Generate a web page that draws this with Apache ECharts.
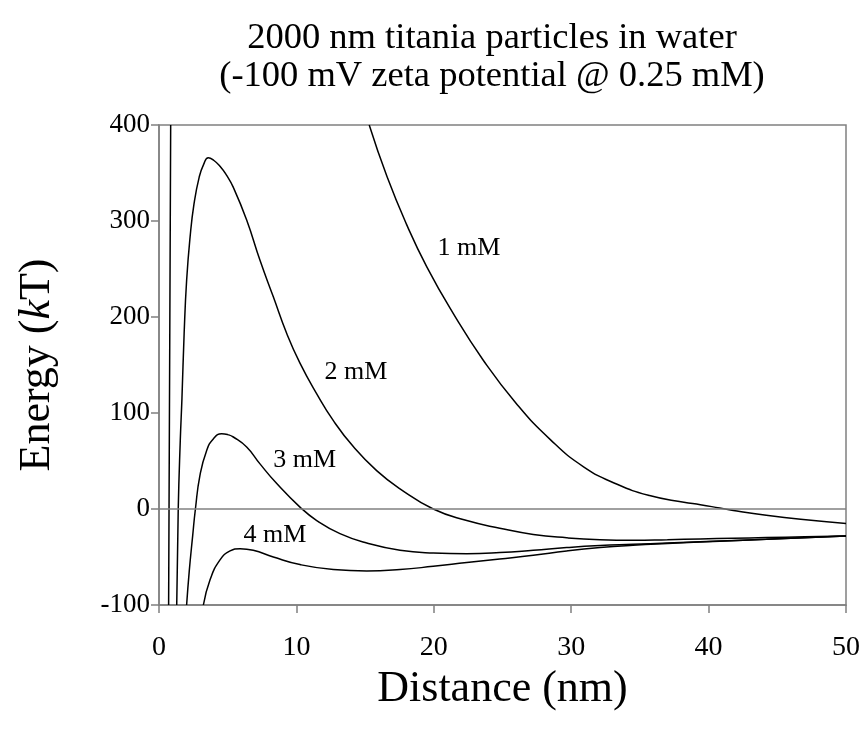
<!DOCTYPE html>
<html>
<head>
<meta charset="utf-8">
<title>titania particles</title>
<script src="https://cdn.jsdelivr.net/npm/echarts@6/dist/echarts.min.js"></script>
<style>
    html, body {
        margin: 0;
        padding: 0;
        background: #ffffff;
    }
    #chart {
        width: 865px;
        height: 734px;
    }
</style>
</head>
<body>
<div id="chart"></div>
<script>
    // distance (nm), energy (kT)
    const curve1mM = [
        [0.70, -100], [0.85, 400], [8, null],
        [15.3, 400], [16.6, 346], [18.0, 297], [19.5, 252], [21.4, 204],
        [23.6, 155], [26.0, 110], [28.5, 72], [30.9, 44], [33.3, 26],
        [35.7, 14], [38.2, 7], [39.4, 4.5], [40.8, 1], [41.8, -1.5],
        [44.2, -6.5], [46.7, -10.7], [50, -15]
    ];
    const curve2mM = [
        [1.29, -100], [1.40, 0], [1.55, 72], [1.67, 115], [1.83, 183],
        [2.01, 238], [2.26, 283], [2.55, 318], [2.93, 346], [3.25, 359],
        [3.59, 366], [4.0, 363], [4.44, 357], [4.9, 348], [5.41, 335],
        [6.38, 301], [7.35, 259], [8.32, 221], [9.29, 183], [10.26, 152],
        [11.48, 120], [12.69, 92], [14.14, 65], [15.84, 40], [17.54, 21],
        [19.96, 0], [22.4, -12], [24.8, -20], [27.24, -26.5], [29.67, -30],
        [32.1, -32], [34.5, -32.6], [37, -32], [39.4, -31.2], [41.8, -30.5],
        [44.2, -29.8], [47, -29], [50, -28]
    ];
    const curve3mM = [
        [2.01, -100], [2.2, -65], [2.45, -28], [2.65, 0], [2.98, 35],
        [3.47, 61], [3.95, 73], [4.56, 78.5], [5.0, 77.5], [5.41, 75],
        [6.38, 64.6], [7.35, 47], [8.57, 26.5], [10.26, 2], [11.48, -12],
        [13.17, -25.6], [15.12, -35.4], [17.54, -43], [19.96, -45.8],
        [22.4, -46.5], [24.8, -45.4], [27.24, -43], [29.67, -40.2],
        [32.1, -38.1], [34.5, -36.8], [37, -35.4], [40.8, -33.3],
        [44.2, -31.6], [50, -28]
    ];
    const curve4mM = [
        [3.23, -100], [3.71, -74], [4.44, -53], [5.17, -43.7], [5.9, -41.3],
        [6.86, -43], [8.32, -50], [10.26, -57.9], [12.69, -63.1],
        [15.12, -64.6], [17.54, -63.1], [19.96, -59.7], [22.4, -55.8],
        [24.8, -52.1], [27.24, -48.2], [29.67, -43.7], [32.1, -40.2],
        [34.5, -37.8], [37, -36], [40.8, -33.6], [44.2, -31.6], [50, -28]
    ];
    const curveNames = ['1 mM', '2 mM', '3 mM', '4 mM'];
    const labelAt = [[22.56, 271.6], [14.34, 142.4], [10.6, 51.3], [8.44, -27.4]];

    const xTicks = { min: 0, max: 50, interval: 10 };
    const yTicks = { min: -100, max: 400, interval: 100 };

    const serif = 'Liberation Serif, Times New Roman, serif';
    const gray = '#808080';

    function curveSeries(name, data, withZero) {
        const s = {
            name: name,
            type: 'line',
            data: data,
            showSymbol: false,
            smooth: 0.5,
            clip: true,
            connectNulls: false,
            lineStyle: { color: '#000000', width: 1.5 },
            z: 3
        };
        if (withZero) {
            s.markLine = {
                silent: true,
                symbol: 'none',
                label: { show: false },
                lineStyle: { color: gray, width: 1.5, type: 'solid' },
                data: [{ yAxis: 0 }]
            };
        }
        return s;
    }

    const option = {
        animation: false,
        backgroundColor: '#ffffff',
        title: {
            text: '2000 nm titania particles in water\n(-100 mV zeta potential @ 0.25 mM)',
            left: 487,
            top: 14,
            textAlign: 'center',
            textStyle: {
                fontFamily: serif,
                fontWeight: 'normal',
                fontSize: 36.5,
                lineHeight: 38,
                color: '#000000'
            }
        },
        grid: {
            left: 159,
            right: 19,
            top: 125,
            bottom: 129,
            show: true,
            borderColor: gray,
            borderWidth: 1.5
        },
        xAxis: {
            type: 'value',
            min: xTicks.min,
            max: xTicks.max,
            interval: xTicks.interval,
            name: 'Distance (nm)',
            nameLocation: 'middle',
            nameGap: 62,
            nameTextStyle: { fontFamily: serif, fontSize: 44, color: '#000000' },
            axisLine: { onZero: false, lineStyle: { color: gray, width: 1.5 } },
            axisTick: { inside: false, length: 8, lineStyle: { color: gray, width: 1.5 } },
            axisLabel: { fontFamily: serif, fontSize: 28, color: '#000000', margin: 29 },
            splitLine: { show: false }
        },
        yAxis: {
            type: 'value',
            min: yTicks.min,
            max: yTicks.max,
            interval: yTicks.interval,
            name: '{a|Energy (}{b|k}{a|T)}',
            nameLocation: 'middle',
            nameGap: 100,
            nameRotate: 90,
            nameTextStyle: {
                rich: {
                    a: { fontFamily: serif, fontSize: 44, color: '#000000' },
                    b: { fontFamily: serif, fontSize: 44, color: '#000000', fontStyle: 'italic' }
                }
            },
            axisLine: { onZero: false, lineStyle: { color: gray, width: 1.5 } },
            axisTick: { inside: false, length: 8, lineStyle: { color: gray, width: 1.5 } },
            axisLabel: { fontFamily: serif, fontSize: 27, color: '#000000', margin: 9 },
            splitLine: { show: false }
        },
        series: [
            curveSeries(curveNames[0], curve1mM, true),
            curveSeries(curveNames[1], curve2mM, false),
            curveSeries(curveNames[2], curve3mM, false),
            curveSeries(curveNames[3], curve4mM, false),
            {
                type: 'scatter',
                symbolSize: 0,
                silent: true,
                z: 4,
                data: labelAt.map(function (p, i) {
                    return { value: p, name: curveNames[i] };
                }),
                label: {
                    show: true,
                    position: 'inside',
                    formatter: '{b}',
                    fontFamily: serif,
                    fontSize: 26,
                    color: '#000000',
                    opacity: 1
                }
            }
        ]
    };

    echarts.init(document.getElementById('chart')).setOption(option);
</script>
</body>
</html>
